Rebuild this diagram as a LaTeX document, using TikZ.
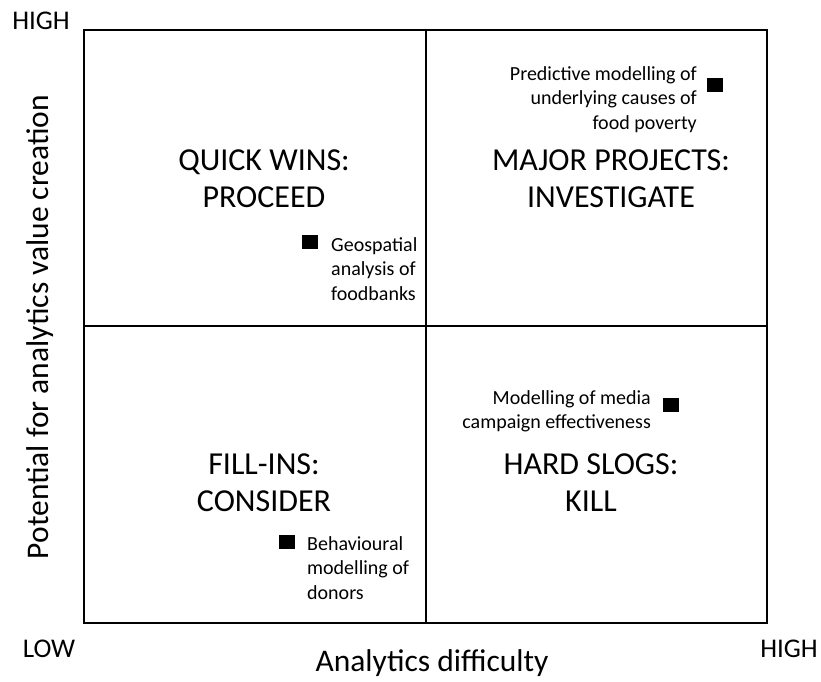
\documentclass[tikz,border=0pt]{standalone}
\usepackage{fontspec}
\setmainfont{Carlito}
\begin{document}
\begin{tikzpicture}[x=1pt,y=-1pt,
  big/.style={font=\fontsize{32}{37}\selectfont, align=center, inner sep=0pt},
  axis/.style={font=\fontsize{27}{32}\selectfont, inner sep=0pt},
  axislabel/.style={font=\fontsize{31.5}{36}\selectfont, inner sep=0pt},
  small/.style={font=\fontsize{20}{24.5}\selectfont, inner sep=0pt},
  mark box/.style={fill=black, minimum width=16pt, minimum height=14pt, inner sep=0pt},
  grid line/.style={line width=1.4pt, black}]
\useasboundingbox (0,0) rectangle (821,681);
\coordinate (tl) at (84,30);
\coordinate (br) at (767,623);
\coordinate (mt) at (426,30);
\coordinate (mb) at (426,623);
\coordinate (ml) at (84,326);
\coordinate (mr) at (767,326);
\draw[grid line] (tl) rectangle (br);
\draw[grid line] (mt) -- (mb);
\draw[grid line] (ml) -- (mr);
% axis labels
\node[axis] (hightop) at (41,21) {HIGH};
\node[axis] (low) at (49,649) {LOW};
\node[axis] (highr) at (789,649) {HIGH};
\node[axislabel] (xlab) at (432,663) {Analytics difficulty};
\node[axislabel, rotate=90] (ylab) at (40,327) {Potential for analytics value creation};
% quadrant labels
\node[big] (qw) at (264,179) {QUICK WINS:\\PROCEED};
\node[big] (mp) at (611,179) {MAJOR PROJECTS:\\INVESTIGATE};
\node[big] (fi) at (264,483) {FILL-INS:\\CONSIDER};
\node[big] (hs) at (591,483) {HARD SLOGS:\\KILL};
% items
\node[mark box] (m1) at (715,85) {};
\node[small, align=right, anchor=north east] (t1) at (697,66) {Predictive modelling of\\underlying causes of\\food poverty};
\node[mark box] (m2) at (310,242) {};
\node[small, align=left, anchor=north west] (t2) at (331,237) {Geospatial\\analysis of\\foodbanks};
\node[mark box] (m3) at (287,542) {};
\node[small, align=left, anchor=north west] (t3) at (307,536) {Behavioural\\modelling of\\donors};
\node[mark box] (m4) at (671,405) {};
\node[small, align=right, anchor=north east] (t4) at (651,390) {Modelling of media\\campaign effectiveness};
\end{tikzpicture}
\end{document}
